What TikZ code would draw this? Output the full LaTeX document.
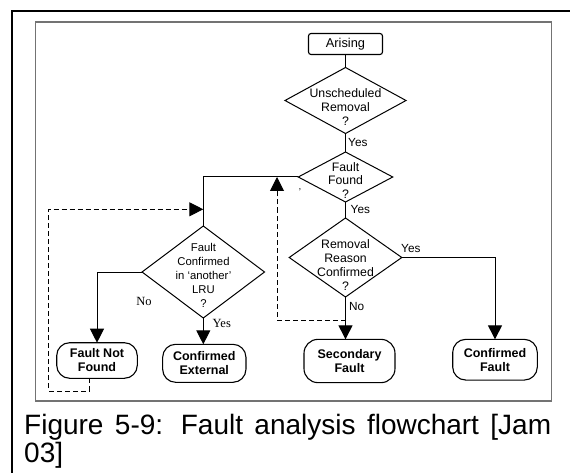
\documentclass[tikz,border=0pt]{standalone}
\usepackage{fontspec}
\setmainfont{Liberation Sans}
\newfontfamily\serifface{Liberation Serif}
\usetikzlibrary{shapes.geometric,arrows.meta}
\definecolor{framegray}{RGB}{115,115,115}
\begin{document}
\begin{tikzpicture}[x=1pt,y=-1pt,
  conn/.style={line width=1pt},
  arr/.style={conn,-{Triangle[length=14pt,width=14pt]}},
  dashret/.style={arr,dash pattern=on 5pt off 3pt},
  dia/.style={diamond,draw,line width=1pt,inner sep=0pt,outer sep=0pt},
  qtext/.style={align=center,inner sep=0pt,font=\fontsize{12.3}{14}\selectfont},
  term/.style={draw,line width=1.1pt,rounded corners=13pt,inner sep=0pt,outer sep=0pt,align=center,font=\bfseries\fontsize{12.5}{14}\selectfont},
  lab/.style={inner sep=0pt,font=\fontsize{11.8}{13}\selectfont},
  slab/.style={inner sep=0pt,font=\serifface\fontsize{12.5}{13}\selectfont},
  captext/.style={anchor=base west,inner sep=0pt,font=\fontsize{28}{32}\selectfont},
]
\useasboundingbox (0,0) rectangle (570,473);

% page frame and figure frame
\draw[line width=2.3pt] (12,475) -- (12,10.7) -- (572,10.7);
\draw[framegray,line width=1.3pt] (35.5,22) rectangle (551.7,401);

% start box
\node[draw,line width=1.1pt,rounded corners=2.5pt,minimum width=74pt,minimum height=21pt,
      inner sep=0pt,outer sep=0pt,font=\fontsize{12.8}{14}\selectfont] (arising) at (345.5,44) {Arising};

% decisions
\node[dia,minimum width=121pt,minimum height=66pt] (d1) at (345.5,100.5) {};
\node[qtext] (t1) at (345.5,107) {Unscheduled\\Removal\\?};

\node[dia,minimum width=94.5pt,minimum height=50pt] (d2) at (345.5,177) {};
\node[qtext,font=\fontsize{12.3}{13.5}\selectfont] (t2) at (345.5,180.5) {Fault\\Found\\?};

\node[dia,minimum width=112.6pt,minimum height=79pt] (d3) at (345.5,257.5) {};
\node[qtext] (t3) at (345.5,265) {Removal\\Reason\\Confirmed\\?};

\node[dia,minimum width=122.5pt,minimum height=92pt] (d4) at (203.3,272) {};
\node[qtext,font=\fontsize{11.3}{13.8}\selectfont] (t4) at (203.5,275.5) {Fault\\Confirmed\\in `another'\\LRU\\?};

% outcomes
\node[term,minimum width=80.6pt,minimum height=35.6pt] (fnf) at (97,360.5) {Fault Not\\Found};
\node[term,minimum width=83.3pt,minimum height=38pt] (ce) at (204.3,363.3) {Confirmed\\External};
\node[term,minimum width=91pt,minimum height=43.3pt,rounded corners=14pt] (sf) at (349.5,361) {Secondary\\Fault};
\node[term,minimum width=84.6pt,minimum height=40.7pt] (cf) at (495,359.7) {Confirmed\\Fault};

% main flow
\draw[conn] (arising.south) -- (d1.north);
\draw[conn] (d1.south) -- (d2.north);
\draw[conn] (d2.south) -- (d3.north);
\draw[arr] (d3.east) -| (cf.north);
\draw[arr] (d3.south) -- (d3.south |- sf.north);
\draw[conn] (d2.west) -| (d4.north);
\draw[arr] (d4.west) -| (fnf.north);
\draw[arr] (d4.south) -- (d4.south |- ce.north);

% return paths
\coordinate (lpA) at (48.5,391);
\coordinate (lpB) at (48.5,209.3);
\draw[dashret] ([xshift=-8pt]fnf.south) |- (lpA) -- (lpB) -- (lpB -| d4.north);
\coordinate (dy) at (0,320);
\coordinate (upT) at (277,0);
\draw[dashret] (d3.south |- dy) -| (upT |- d2.west);

% stray mark near the second decision
\node[inner sep=0pt,font=\fontsize{10}{10}\selectfont] (tick) at (300,192) {’};

% branch labels
\node[lab,anchor=west] (yes1) at (348,142) {Yes};
\node[lab,anchor=west] (yes2) at (350.5,209.5) {Yes};
\node[lab,anchor=west] (yes3) at (401,248.5) {Yes};
\node[lab,anchor=west] (no3) at (349,306) {No};
\node[slab] (no4) at (144,301) {No};
\node[slab,anchor=west] (yes4) at (212.5,323.5) {Yes};

% caption
\node[captext] (cap1) at (24,434) {\makebox[527pt][s]{Figure 5-9: Fault analysis flowchart [Jam}};
\node[captext] (cap2) at (24,462) {03]};
\end{tikzpicture}
\end{document}
